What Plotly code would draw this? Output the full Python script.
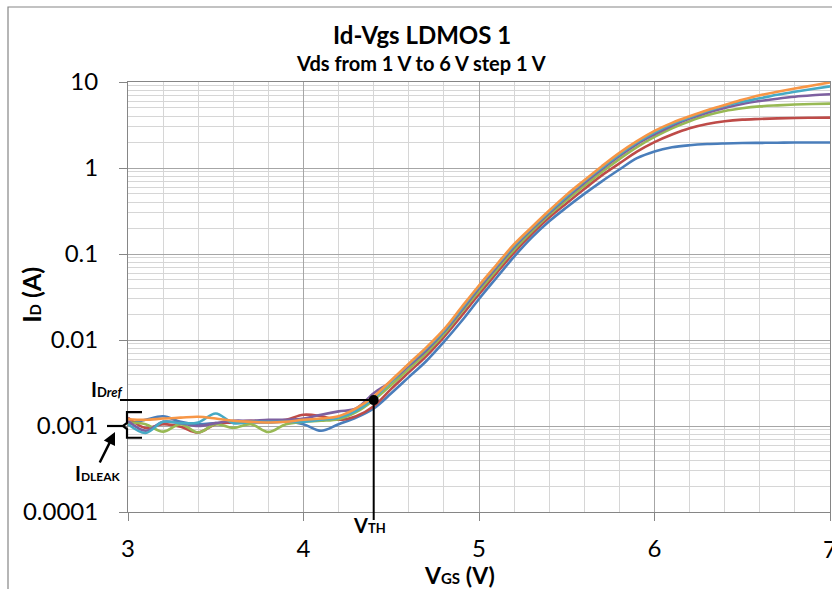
import math
import plotly.graph_objects as go

# ---------------- data ----------------
VGS = [3.0, 3.1, 3.2, 3.3, 3.4, 3.5, 3.6, 3.7, 3.8, 3.9, 4.0, 4.1, 4.2, 4.3,
       4.4, 4.5, 4.6, 4.7, 4.8, 4.9, 5.0, 5.1, 5.2, 5.3, 5.4, 5.5, 5.6, 5.7,
       5.8, 5.9, 6.0, 6.1, 6.2, 6.3, 6.4, 6.5, 6.6, 6.7, 6.8, 6.9, 7.0]

ID_VDS1 = [0.00105, 0.00118, 0.0013, 0.00112, 0.00105, 0.00108, 0.0011, 0.0011, 0.0011, 0.00112,
           0.00105, 0.00088, 0.00105, 0.00125,
           0.0016, 0.0024, 0.0037, 0.0057, 0.0095, 0.0165, 0.030, 0.053, 0.093, 0.155, 0.24, 0.35,
           0.50, 0.70, 0.96, 1.30, 1.56, 1.74, 1.84, 1.90, 1.93, 1.95, 1.96, 1.97, 1.98, 1.98, 1.98]
ID_VDS2 = [0.00125, 0.00095, 0.00105, 0.00098, 0.00084, 0.00105, 0.0011, 0.00115, 0.00112, 0.00118,
           0.00135, 0.0013, 0.00118, 0.0013,
           0.0017, 0.0027, 0.0042, 0.0065, 0.0108, 0.019, 0.034, 0.060, 0.104, 0.17, 0.265, 0.39,
           0.57, 0.82, 1.13, 1.55, 2.0, 2.45, 2.9, 3.25, 3.5, 3.65, 3.72, 3.78, 3.82, 3.84, 3.85]
ID_VDS3 = [0.0011, 0.00105, 0.00086, 0.00105, 0.00084, 0.00105, 0.00095, 0.00105, 0.00085, 0.00105,
           0.00112, 0.00115, 0.0012, 0.00145,
           0.0020, 0.0030, 0.0046, 0.0071, 0.0117, 0.021, 0.037, 0.065, 0.112, 0.182, 0.285, 0.425,
           0.62, 0.90, 1.27, 1.75, 2.3, 2.9, 3.5, 4.1, 4.6, 4.95, 5.2, 5.35, 5.47, 5.55, 5.6]
ID_VDS4 = [0.00115, 0.00088, 0.00112, 0.00108, 0.0010, 0.00108, 0.00115, 0.00115, 0.00118, 0.00118,
           0.00122, 0.00135, 0.00148, 0.0016,
           0.0024, 0.0033, 0.0050, 0.0076, 0.0124, 0.022, 0.040, 0.070, 0.12, 0.193, 0.30, 0.455,
           0.67, 0.97, 1.38, 1.9, 2.46, 3.1, 3.75, 4.4, 5.0, 5.55, 6.0, 6.4, 6.75, 7.0, 7.2]
ID_VDS5 = [0.00105, 0.00083, 0.00112, 0.00108, 0.0011, 0.0014, 0.00108, 0.00112, 0.00112, 0.00112,
           0.00112, 0.00118, 0.00125, 0.0015,
           0.0021, 0.0033, 0.0052, 0.0080, 0.0128, 0.023, 0.042, 0.073, 0.125, 0.20, 0.31, 0.47,
           0.70, 1.01, 1.44, 1.98, 2.6, 3.25, 3.9, 4.6, 5.3, 5.9, 6.46, 7.1, 7.7, 8.3, 8.9]
ID_VDS6 = [0.0012, 0.00118, 0.00122, 0.00125, 0.00128, 0.00122, 0.00115, 0.00112, 0.0011, 0.00112,
           0.00118, 0.00122, 0.0013, 0.0016,
           0.0022, 0.0034, 0.0053, 0.0082, 0.0133, 0.024, 0.043, 0.075, 0.13, 0.205, 0.32, 0.49,
           0.72, 1.05, 1.5, 2.05, 2.7, 3.35, 4.0, 4.7, 5.4, 6.2, 7.0, 7.7, 8.4, 9.1, 9.9]

SERIES = [ID_VDS1, ID_VDS2, ID_VDS3, ID_VDS4, ID_VDS5, ID_VDS6]
SERIES_NAMES = ["Vds = 1 V", "Vds = 2 V", "Vds = 3 V", "Vds = 4 V", "Vds = 5 V", "Vds = 6 V"]
COLORS = ["#4A7EBB", "#BE4B48", "#98B954", "#7D60A0", "#46AAC5", "#F79646"]

Y_TICKS = [0.0001, 0.001, 0.01, 0.1, 1, 10]
Y_TICK_TEXT = ["0.0001", "0.001", "0.01", "0.1", "1", "10"]
X_TICKS = [3, 4, 5, 6, 7]
X_TICK_TEXT = ["3", "4", "5", "6", "7"]

VTH = 4.4        # threshold voltage (V)
IDREF = 0.002    # reference current (A)
ILEAK = 0.001    # leakage current level (A)
ILEAK_LO = 0.00073
ILEAK_HI = 0.00145

X_RANGE = [3, 7]
Y_RANGE_LOG = [-4, 1]

# ---------------- geometry ----------------
W, H = 832, 589
ML, MR, MT, MB = 128, 2, 82, 77
PW = W - ML - MR
PH = H - MT - MB
FONT = "Lato, Carlito, 'Open Sans', sans-serif"


def xp(v):
    return (v - X_RANGE[0]) / (X_RANGE[1] - X_RANGE[0])


def yp(v):
    return (math.log10(v) - Y_RANGE_LOG[0]) / (Y_RANGE_LOG[1] - Y_RANGE_LOG[0])


def dx(px):
    return px / PW


def dy(px):
    return px / PH


def small(t, size):
    return f"<span style='font-size:{size}px'>{t}</span>"


fig = go.Figure()
for vals, name, col in zip(SERIES, SERIES_NAMES, COLORS):
    fig.add_trace(go.Scatter(x=VGS, y=vals, mode="lines", name=name,
                             line=dict(color=col, width=2.6, shape="spline", smoothing=1.0)))

# threshold point
fig.add_trace(go.Scatter(x=[VTH], y=[IDREF], mode="markers", cliponaxis=False,
                         marker=dict(color="black", size=10), showlegend=False))

minor_y = [k * 10 ** e for e in range(-4, 1) for k in range(2, 10)]

fig.update_layout(
    width=W, height=H,
    margin=dict(l=ML, r=MR, t=MT, b=MB),
    paper_bgcolor="white", plot_bgcolor="white",
    showlegend=False,
    font=dict(family=FONT, color="black"),
    xaxis=dict(range=X_RANGE, tickvals=X_TICKS, ticktext=X_TICK_TEXT[:-1] + [""],
               ticks="outside", ticklen=8,
               tickcolor="#868686", showline=True, linecolor="#868686", linewidth=1,
               mirror=True, showgrid=True, gridcolor="#A6A6A6", gridwidth=1,
               zeroline=False, tickfont=dict(size=24, family=FONT),
               ticklabelstandoff=7,
               minor=dict(dtick=0.2, tick0=3, showgrid=True, gridcolor="#D6D6D6", gridwidth=1)),
    yaxis=dict(type="log", range=Y_RANGE_LOG, tickvals=Y_TICKS, ticktext=Y_TICK_TEXT,
               ticks="outside", ticklen=8, tickcolor="#868686",
               showline=True, linecolor="#868686", linewidth=1, mirror=True,
               showgrid=True, gridcolor="#A6A6A6", gridwidth=1, zeroline=False,
               tickfont=dict(size=24, family=FONT), ticklabelstandoff=16,
               minor=dict(tickvals=minor_y, showgrid=True, gridcolor="#D6D6D6", gridwidth=1)),
)

shapes = []
# outer chart frame
shapes.append(dict(type="rect", xref="paper", yref="paper",
                   x0=dx(8 - ML), x1=1 + dx(20), y0=-dy(120), y1=1 + dy(MT - 7),
                   line=dict(color="#868686", width=1.2), layer="below"))
# IDref horizontal line
shapes.append(dict(type="line", xref="paper", yref="paper",
                   x0=-dx(8), x1=xp(VTH), y0=yp(IDREF), y1=yp(IDREF),
                   line=dict(color="black", width=2)))
# VTH vertical line
shapes.append(dict(type="line", xref="paper", yref="paper",
                   x0=xp(VTH), x1=xp(VTH), y0=yp(IDREF), y1=-dy(8),
                   line=dict(color="black", width=2)))
# leakage brace
bx_in = -dx(1)
bx_out = dx(14)
bx_tip = -dx(5)
ym = yp(ILEAK)
yt = yp(ILEAK_HI)
yb = yp(ILEAK_LO)
path = (f"M {bx_out},{yt} L {bx_in},{yt} L {bx_in},{ym + dy(3)} L {bx_tip},{ym} "
        f"L {bx_in},{ym - dy(3)} L {bx_in},{yb} L {bx_out},{yb}")
shapes.append(dict(type="path", xref="paper", yref="paper", path=path,
                   line=dict(color="black", width=2.2)))
shapes.append(dict(type="line", xref="paper", yref="paper",
                   x0=-dx(21), x1=bx_tip, y0=ym, y1=ym,
                   line=dict(color="black", width=2.2)))
fig.update_layout(shapes=shapes)

ann = []
# last x tick label (partly beyond the right edge, as in the reference)
ann.append(dict(xref="x", yref="paper", x=X_TICKS[-1], y=-dy(36),
                text=X_TICK_TEXT[-1], showarrow=False,
                font=dict(size=24, family=FONT), xanchor="center", yanchor="middle"))
ann.append(dict(xref="paper", yref="paper", x=dx(422 - ML), y=1 + dy(MT - 35),
                text="<b>Id-Vgs LDMOS 1</b>", showarrow=False,
                font=dict(size=24, family=FONT), xanchor="center", yanchor="middle"))
ann.append(dict(xref="paper", yref="paper", x=dx(421 - ML), y=1 + dy(MT - 63),
                text="<b>Vds from 1 V to 6 V step 1 V</b>", showarrow=False,
                font=dict(size=20, family=FONT), xanchor="center", yanchor="middle"))
ann.append(dict(xref="paper", yref="paper", x=dx(31 - ML), y=0.505, textangle=-90,
                text="<b>I" + small("D", 15) + " (A)</b>", showarrow=False,
                font=dict(size=25, family=FONT), xanchor="center", yanchor="middle"))
ann.append(dict(xref="paper", yref="paper", x=dx(459 - ML), y=-dy(575 - (MT + PH)),
                text="<b>V" + small("GS", 15) + " (V)</b>", showarrow=False,
                font=dict(size=23, family=FONT), xanchor="center", yanchor="middle"))
ann.append(dict(xref="paper", yref="paper", x=-dx(21), y=yp(IDREF) + dy(11),
                text="<b>I" + small("D<i>ref</i>", 13) + "</b>", showarrow=False,
                font=dict(size=20, family=FONT), xanchor="center", yanchor="middle"))
ann.append(dict(xref="paper", yref="paper", x=xp(VTH) - dx(4), y=-dy(13),
                text="<b>V" + small("TH", 13) + "</b>", showarrow=False,
                font=dict(size=20, family=FONT), xanchor="center", yanchor="middle"))
ann.append(dict(xref="paper", yref="paper", x=-dx(30), y=yp(ILEAK) - dy(47),
                text="<b>I" + small("DLEAK", 12) + "</b>", showarrow=False,
                font=dict(size=20, family=FONT), xanchor="center", yanchor="middle"))
ann.append(dict(xref="paper", yref="paper", x=-dx(13), y=yp(ILEAK) - dy(6),
                text="", showarrow=True, arrowhead=2, arrowsize=1, arrowwidth=2.5,
                arrowcolor="black", ax=-16, ay=32, axref="pixel", ayref="pixel"))
fig.update_layout(annotations=ann)

fig.write_html("out.html")
